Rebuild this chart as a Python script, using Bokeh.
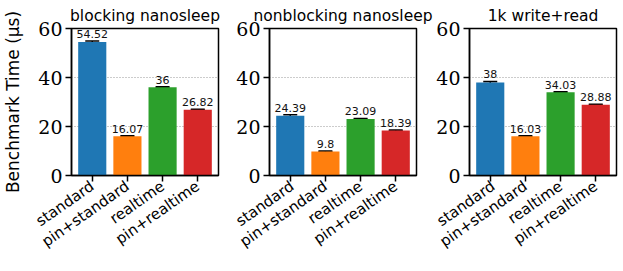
import math
from bokeh.plotting import figure
from bokeh.layouts import row
from bokeh.models import Range1d, FixedTicker, ColumnDataSource, Whisker, TeeHead
from bokeh.core.properties import value
from bokeh.embed import file_html
from bokeh.resources import INLINE

titles = ["blocking nanosleep", "nonblocking nanosleep", "1k write+read"]
categories = ["standard", "pin+standard", "realtime", "pin+realtime"]
blocking = [54.52, 16.07, 36.0, 26.82]
nonblocking = [24.39, 9.8, 23.09, 18.39]
write_read = [38.0, 16.03, 34.03, 28.88]
blocking_err = [0.4, 0.2, 0.2, 0.2]
nonblocking_err = [0.4, 0.2, 0.2, 0.2]
write_read_err = [0.4, 0.2, 0.2, 0.2]
y_ticks = [0, 20, 40, 60]
colors = ["#1f77b4", "#ff7f0e", "#2ca02c", "#d62728"]

SANS = "DejaVu Sans"
SERIF = "DejaVu Serif"


def make(i, vals, errs):
    left = [65, 37, 33][i]
    right = [14, 17, 3][i]
    p = figure(frame_width=147, frame_height=147,
               x_range=Range1d(-0.59, 3.59), y_range=Range1d(0, 60),
               output_backend="svg", toolbar_location=None,
               min_border_left=left, min_border_right=right,
               min_border_top=27, min_border_bottom=81, title=titles[i])
    xs = list(range(len(categories)))
    src = ColumnDataSource(dict(
        x=xs, top=vals,
        lower=[v - e for v, e in zip(vals, errs)],
        upper=[v + e for v, e in zip(vals, errs)],
        color=colors,
        label=[f"{v:g}" for v in vals]))
    p.vbar(x="x", top="top", width=0.8, fill_color="color", line_color=None, source=src)
    w = Whisker(base="x", lower="lower", upper="upper", source=src,
                line_color="black", line_width=1.5,
                upper_head=TeeHead(size=14, line_color="black", line_width=1.5),
                lower_head=TeeHead(size=14, line_color="black", line_width=1.5))
    p.add_layout(w)
    p.text(x="x", y="upper", text="label", source=src, text_align="center",
           text_baseline="bottom", y_offset=-3, text_font=value(SANS),
           text_font_size="11px", text_color="#111111")

    p.title.text_font = SANS
    p.title.text_font_size = "15.5px"
    p.title.text_font_style = "normal"
    p.title.text_color = "black"
    p.title.align = "center"
    p.title.standoff = 8

    p.xaxis.ticker = FixedTicker(ticks=xs)
    p.xaxis.major_label_overrides = {k: c for k, c in zip(xs, categories)}
    p.xaxis.major_label_orientation = math.radians(35)
    p.xaxis.major_label_text_font = SANS
    p.xaxis.major_label_text_font_size = "15px"
    p.yaxis.ticker = FixedTicker(ticks=y_ticks)
    p.yaxis.major_label_text_font = SERIF
    p.yaxis.major_label_text_font_size = "19px"
    for ax in (p.xaxis, p.yaxis):
        ax.axis_line_color = "black"
        ax.axis_line_width = 1.5
        ax.major_tick_line_color = "black"
        ax.major_tick_line_width = 1.5
        ax.major_tick_out = 6
        ax.major_tick_in = 0
        ax.minor_tick_line_color = None
        ax.major_label_text_color = "black"
        ax.major_label_standoff = 3
    p.xgrid.visible = False
    p.ygrid.ticker = FixedTicker(ticks=y_ticks)
    p.ygrid.grid_line_color = "#999999"
    p.ygrid.grid_line_dash = "1 2"
    p.ygrid.grid_line_width = 1
    p.outline_line_color = "black"
    p.outline_line_width = 1.5
    p.outline_line_alpha = 1
    if i == 0:
        p.yaxis.axis_label = "Benchmark Time (μs)"
        p.yaxis.axis_label_text_font = SANS
        p.yaxis.axis_label_text_font_size = "17px"
        p.yaxis.axis_label_text_font_style = "normal"
        p.yaxis.axis_label_text_color = "black"
        p.yaxis.axis_label_standoff = 12
    return p


p1 = make(0, blocking, blocking_err)
p2 = make(1, nonblocking, nonblocking_err)
p3 = make(2, write_read, write_read_err)
layout = row(p1, p2, p3, spacing=0)

open("out.html", "w").write(file_html(layout, INLINE))
